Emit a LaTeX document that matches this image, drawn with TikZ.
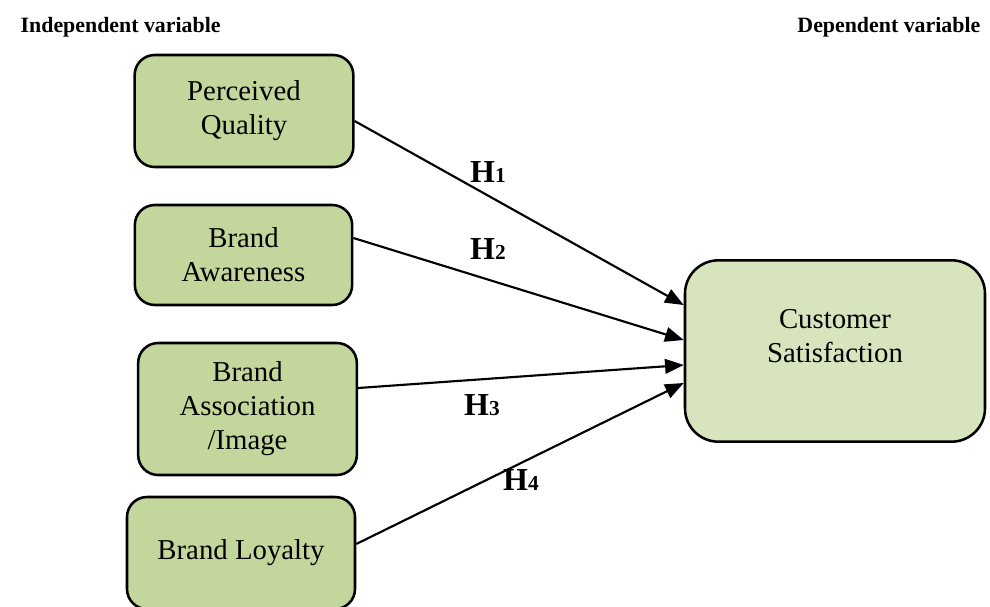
\documentclass[tikz,border=0pt]{standalone}
\usepackage{fontspec}
\setmainfont{Liberation Serif}
\usetikzlibrary{arrows.meta}
\definecolor{boxg}{HTML}{C3D69B}
\definecolor{boxl}{HTML}{D7E4BD}

\newcommand{\hyp}[1]{H{\fontsize{16}{16}\selectfont #1}}

\begin{document}
\begin{tikzpicture}[x=0.75pt,y=-0.75pt,
  ivbox/.style={draw,line width=1.9pt,rounded corners=15pt,fill=boxg,
    align=center,font=\fontsize{21.6}{25.5}\selectfont},
  link/.style={-{Triangle[length=14pt,width=11pt]},line width=1.6pt},
  hlab/.style={font=\fontsize{24}{24}\selectfont\bfseries},
  head/.style={font=\fontsize{16.4}{18}\selectfont\bfseries}]
  \useasboundingbox (0,0) rectangle (990,607);
  % column headings
  \node[head,anchor=west] (ivh) at (16,27) {Independent variable};
  \node[head,anchor=east] (dvh) at (985,27) {Dependent variable};
  % independent variables
  \node[ivbox,minimum width=164pt,minimum height=84pt] (pq) at (244,111)
    {Perceived\\Quality};
  \node[ivbox,minimum width=163pt,minimum height=75pt] (ba) at (243.5,255)
    {Brand\\Awareness};
  \node[ivbox,minimum width=164pt,minimum height=99pt] (bas) at (247.5,409)
    {Brand\\Association\\/Image};
  \node[ivbox,minimum width=171pt,minimum height=84pt] (bl) at (241,553)
    {Brand Loyalty};
  % dependent variable, text sits above the middle
  \node[draw,line width=1.9pt,rounded corners=25pt,fill=boxl,
    minimum width=225pt,minimum height=136pt] (cs) at (835,351) {};
  \node[align=center,font=\fontsize{21.6}{25.5}\selectfont] (cst) at (835,336)
    {Customer\\Satisfaction};
  % hypotheses
  \draw[link] ([yshift=-7.5pt]pq.east) -- ([yshift=34.5pt]cs.west);
  \draw[link] ([yshift=12.75pt]ba.east) -- ([yshift=8.25pt]cs.west);
  \draw[link] ([yshift=15.75pt]bas.east) -- ([yshift=-10.5pt]cs.west);
  \draw[link] ([yshift=6.75pt]bl.east) -- ([yshift=-24pt]cs.west);
  \node[hlab] (h1) at (488,172) {\hyp{1}};
  \node[hlab] (h2) at (488,249) {\hyp{2}};
  \node[hlab] (h3) at (482,405) {\hyp{3}};
  \node[hlab] (h4) at (521,480) {\hyp{4}};
\end{tikzpicture}
\end{document}
